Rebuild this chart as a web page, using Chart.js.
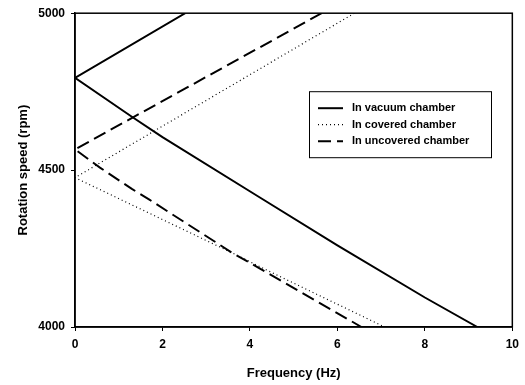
<!DOCTYPE html>
<html>
<head>
<meta charset="utf-8">
<script src="https://cdn.jsdelivr.net/npm/chart.js@4"></script>
<style>
  html, body { margin: 0; padding: 0; background: #fff; }
  #wrap { width: 525px; height: 385px; }
</style>
</head>
<body>
<div id="wrap"><canvas id="speedChart"></canvas></div>
<script>
// --------------------------
// Data
// --------------------------
const seriesLabels = ["In vacuum chamber", "In covered chamber", "In uncovered chamber"];

// each path runs: top end of upper branch -> vertex at 0 Hz -> bottom end of lower branch
const vacuumHz  = [2.52, 0, 1.3, 2, 4.2, 6, 8, 9.2];
const vacuumRpm = [5000, 4794, 4670, 4605, 4415, 4260, 4094, 4000];

const coveredHz  = [6.39, 0, 3.61, 4.52, 7.08];
const coveredRpm = [5000, 4476, 4235, 4172, 4000];

const uncoveredHz  = [5.64, 0, 0.57, 1.3, 1.71, 3.61, 4.22, 6.55];
const uncoveredRpm = [5000, 4566, 4508, 4440, 4405, 4235, 4187, 4000];

const xTicks = [0, 2, 4, 6, 8, 10];
const yTicks = [4000, 4500, 5000];

function toPoints(xs, ys) {
  return xs.map((x, i) => ({ x: x, y: ys[i] }));
}

// --------------------------
// Plugins
// --------------------------
// box round the plot area
const frameBox = {
  id: "frameBox",
  afterDatasetsDraw(chart) {
    const { ctx, chartArea: a } = chart;
    ctx.save();
    ctx.strokeStyle = "#000";
    ctx.lineWidth = 1.5;
    ctx.strokeRect(a.left, a.top, a.right - a.left, a.bottom - a.top);
    ctx.restore();
  },
};

// legend box drawn inside the plot, right side
const innerLegend = {
  id: "innerLegend",
  afterDraw(chart) {
    const { ctx, chartArea: a } = chart;
    const x0 = a.left + 234, y0 = a.top + 78;
    const w = 182, h = 66;
    ctx.save();
    ctx.fillStyle = "#fff";
    ctx.fillRect(x0, y0, w, h);
    ctx.strokeStyle = "#000";
    ctx.lineWidth = 1;
    ctx.strokeRect(x0 + 0.5, y0 + 0.5, w, h);
    ctx.font = "bold 11px 'Liberation Sans', Arial, sans-serif";
    ctx.textBaseline = "middle";
    chart.data.datasets.forEach((ds, i) => {
      const y = y0 + 17 + i * 16.5;
      ctx.strokeStyle = ds.borderColor;
      ctx.lineWidth = ds.borderWidth;
      ctx.setLineDash(ds.borderDash || []);
      ctx.beginPath();
      ctx.moveTo(x0 + 9, y);
      ctx.lineTo(x0 + 34, y);
      ctx.stroke();
      ctx.setLineDash([]);
      ctx.fillStyle = "#000";
      ctx.fillText(ds.label, x0 + 43, y);
    });
    ctx.restore();
  },
};

// --------------------------
// Chart
// --------------------------
const tickFont = { family: "'Liberation Sans', Arial, sans-serif", size: 12, weight: "bold" };
const titleFont = { family: "'Liberation Sans', Arial, sans-serif", size: 13, weight: "bold" };

const speedChart = new Chart(document.getElementById("speedChart"), {
  type: "scatter",
  data: {
    datasets: [
      {
        label: seriesLabels[0],
        data: toPoints(vacuumHz, vacuumRpm),
        borderColor: "#000",
        borderWidth: 2,
        showLine: true,
        pointRadius: 0,
      },
      {
        label: seriesLabels[1],
        data: toPoints(coveredHz, coveredRpm),
        borderColor: "#000",
        borderWidth: 1.2,
        borderDash: [1, 3],
        showLine: true,
        pointRadius: 0,
      },
      {
        label: seriesLabels[2],
        data: toPoints(uncoveredHz, uncoveredRpm),
        borderColor: "#000",
        borderWidth: 2,
        borderDash: [13, 6],
        showLine: true,
        pointRadius: 0,
      },
    ],
  },
  options: {
    responsive: true,
    maintainAspectRatio: false,
    animation: false,
    layout: { padding: { left: 0, top: 12, right: 12, bottom: 0 } },
    plugins: {
      legend: { display: false },
      tooltip: { enabled: false },
    },
    scales: {
      x: {
        type: "linear",
        min: 0,
        max: 10,
        afterBuildTicks: (s) => { s.ticks = xTicks.map((v) => ({ value: v })); },
        afterFit: (s) => { s.height = 58; },
        ticks: { color: "#000", font: tickFont, padding: 6, callback: (v) => String(v) },
        grid: { drawOnChartArea: false, drawTicks: true, tickLength: 4, color: "#000" },
        border: { display: true, color: "#000", width: 1.5 },
        title: { display: true, text: "Frequency (Hz)", color: "#000", font: titleFont, padding: { top: 8 } },
      },
      y: {
        type: "linear",
        min: 4000,
        max: 5000,
        afterBuildTicks: (s) => { s.ticks = yTicks.map((v) => ({ value: v })); },
        afterFit: (s) => { s.width = 75; },
        ticks: { color: "#000", font: tickFont, padding: 6, callback: (v) => String(v) },
        grid: { drawOnChartArea: false, drawTicks: true, tickLength: 4, color: "#000" },
        border: { display: true, color: "#000", width: 1.5 },
        title: { display: true, text: "Rotation speed (rpm)", color: "#000", font: titleFont, padding: { top: 16, bottom: 4 } },
      },
    },
  },
  plugins: [frameBox, innerLegend],
});
</script>
</body>
</html>
